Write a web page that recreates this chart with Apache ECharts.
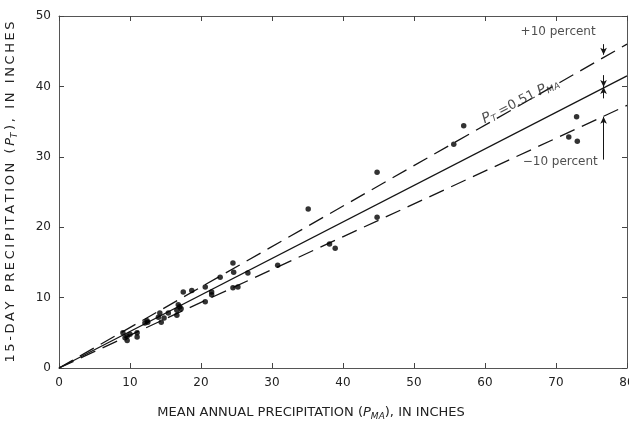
<!DOCTYPE html>
<html>
<head>
<meta charset="utf-8">
<script src="https://cdn.jsdelivr.net/npm/echarts@6/dist/echarts.min.js"></script>
<style>
  html, body { margin: 0; padding: 0; background: #fff; }
  #chart { width: 629px; height: 421px; }
</style>
</head>
<body>
<div id="chart"></div>
<script>
// observed stations: mean annual precipitation (P_MA) vs 15-day precipitation (P_T), inches
const stationPoints = [
  [9.0, 5.0], [9.3, 4.3], [9.6, 4.5], [9.6, 3.9], [10.0, 4.8], [11.0, 5.0], [11.0, 4.4],
  [12.1, 6.4], [12.4, 6.7], [12.5, 6.5], [14.0, 7.2], [14.2, 7.8], [14.4, 6.5], [14.8, 7.1],
  [15.4, 7.8], [16.6, 7.5], [16.6, 8.2], [16.8, 9.0], [17.0, 8.7], [17.2, 8.4], [17.5, 10.8],
  [18.7, 11.0], [20.6, 11.5], [20.6, 9.4], [21.5, 10.8], [21.5, 10.4], [22.7, 12.9],
  [24.5, 14.9], [24.6, 13.6], [24.5, 11.4], [25.2, 11.5], [26.6, 13.5],
  [30.8, 14.6], [35.1, 22.6], [38.1, 17.6], [38.9, 17.0], [44.8, 27.8], [44.8, 21.4],
  [55.6, 31.8], [57.0, 34.4], [71.8, 32.8], [72.9, 35.7], [73.0, 32.2]
];
// fitted line P_T = 0.51 P_MA and the +/-10 percent envelope (end points)
const fitLine = [[0, 0], [80, 41.5]];
const plusTenLine = [[0, 0], [80, 46.0]];
const minusTenLine = [[0, 0], [80, 37.3]];
const xTicks = [0, 10, 20, 30, 40, 50, 60, 70, 80];
const yTicks = [0, 10, 20, 30, 40, 50];

const ink = '#151515';
const textColor = '#222';
const font = 'DejaVu Sans';

// the vertical title in the original is letter-spaced
const spaced = (s) => s.split('').join('\u2009');

const chart = echarts.init(document.getElementById('chart'));

const axisCommon = {
  type: 'value',
  splitLine: { show: false },
  axisLine: { show: true, onZero: false, lineStyle: { color: '#555', width: 1 } },
  axisTick: { show: true, inside: true, length: 5, lineStyle: { color: '#444' } },
};

const richText = (size) => ({
  t: { fontSize: size, color: textColor, fontFamily: font },
  i: { fontSize: size, color: textColor, fontFamily: font, fontStyle: 'italic' },
  s: { fontSize: size - 4, color: textColor, fontFamily: font, fontStyle: 'italic', padding: [7, 0, 0, 0] },
});

const option = {
  backgroundColor: '#fff',
  animation: false,
  grid: { left: 59, right: 2, top: 16, bottom: 53, containLabel: false, outerBoundsMode: 'none' },
  xAxis: [
    {
      ...axisCommon,
      min: xTicks[0], max: xTicks[xTicks.length - 1], interval: 10,
      position: 'bottom',
      axisLabel: { color: textColor, fontSize: 12, fontFamily: font, margin: 9 },
      name: '{t|MEAN ANNUAL PRECIPITATION (}{i|P}{s|MA}{t|), IN INCHES}',
      nameLocation: 'middle',
      nameGap: 37,
      nameTextStyle: { padding: [0, 64, 0, 0], rich: richText(13) },
    },
    {
      ...axisCommon,
      min: xTicks[0], max: xTicks[xTicks.length - 1], interval: 10,
      position: 'top',
      axisLabel: { show: false },
    },
  ],
  yAxis: [
    {
      ...axisCommon,
      min: yTicks[0], max: yTicks[yTicks.length - 1], interval: 10,
      position: 'left',
      axisLabel: { color: textColor, fontSize: 12, fontFamily: font, margin: 8 },
      name: '{t|' + spaced('15-DAY PRECIPITATION (') + '}{i|\u2009P}{s|T}{t|\u2009' + spaced('), IN INCHES') + '}',
      nameLocation: 'middle',
      nameGap: 40,
      nameRotate: 90,
      nameTextStyle: { rich: richText(13) },
    },
    {
      ...axisCommon,
      min: yTicks[0], max: yTicks[yTicks.length - 1], interval: 10,
      position: 'right',
      axisLabel: { show: false },
    },
  ],
  series: [
    {
      name: 'fit',
      type: 'line',
      data: fitLine,
      showSymbol: false,
      lineStyle: { color: ink, width: 1.3 },
      z: 3,
    },
    {
      name: '+10 percent',
      type: 'line',
      data: plusTenLine,
      showSymbol: false,
      lineStyle: { color: ink, width: 1.3, type: [16, 8] },
      z: 3,
    },
    {
      name: '-10 percent',
      type: 'line',
      data: minusTenLine,
      showSymbol: false,
      lineStyle: { color: ink, width: 1.3, type: [16, 8] },
      z: 3,
      markLine: {
        silent: true,
        symbol: ['none', 'arrow'],
        symbolSize: [5, 7],
        label: { show: false },
        lineStyle: { color: ink, width: 1, type: 'solid' },
        data: [
          [{ coord: [76.7, 46.0] }, { coord: [76.7, 44.5] }],
          [{ coord: [76.7, 41.6] }, { coord: [76.7, 39.9] }],
          [{ coord: [76.7, 38.3] }, { coord: [76.7, 39.9] }],
          [{ coord: [76.7, 29.6] }, { coord: [76.7, 35.7] }],
        ],
      },
    },
    {
      name: 'stations',
      type: 'scatter',
      data: stationPoints,
      symbol: 'circle',
      symbolSize: 5.5,
      itemStyle: { color: '#000' },
      z: 4,
    },
    {
      name: 'notes',
      type: 'scatter',
      symbolSize: 0,
      silent: true,
      data: [
        { value: [70.3, 47.8], label: { formatter: '+10 percent' } },
        { value: [70.6, 29.3], label: { formatter: '\u221210 percent' } },
        {
          value: [65.0, 37.9],
          label: {
            formatter: '{i|P}{s|T}{t| =0.51 }{i|P}{s|MA}',
            rotate: 27,
          },
        },
      ],
      label: {
        show: true,
        position: 'inside',
        color: textColor,
        fontSize: 12,
        fontFamily: font,
        rich: {
          t: { fontSize: 13, color: textColor, fontFamily: font },
          i: { fontSize: 14, color: textColor, fontFamily: font, fontStyle: 'italic' },
          s: { fontSize: 9, color: textColor, fontFamily: font, fontStyle: 'italic', padding: [7, 0, 0, 0] },
        },
      },
      z: 5,
    },
  ],
};

chart.setOption(option);
</script>
</body>
</html>
